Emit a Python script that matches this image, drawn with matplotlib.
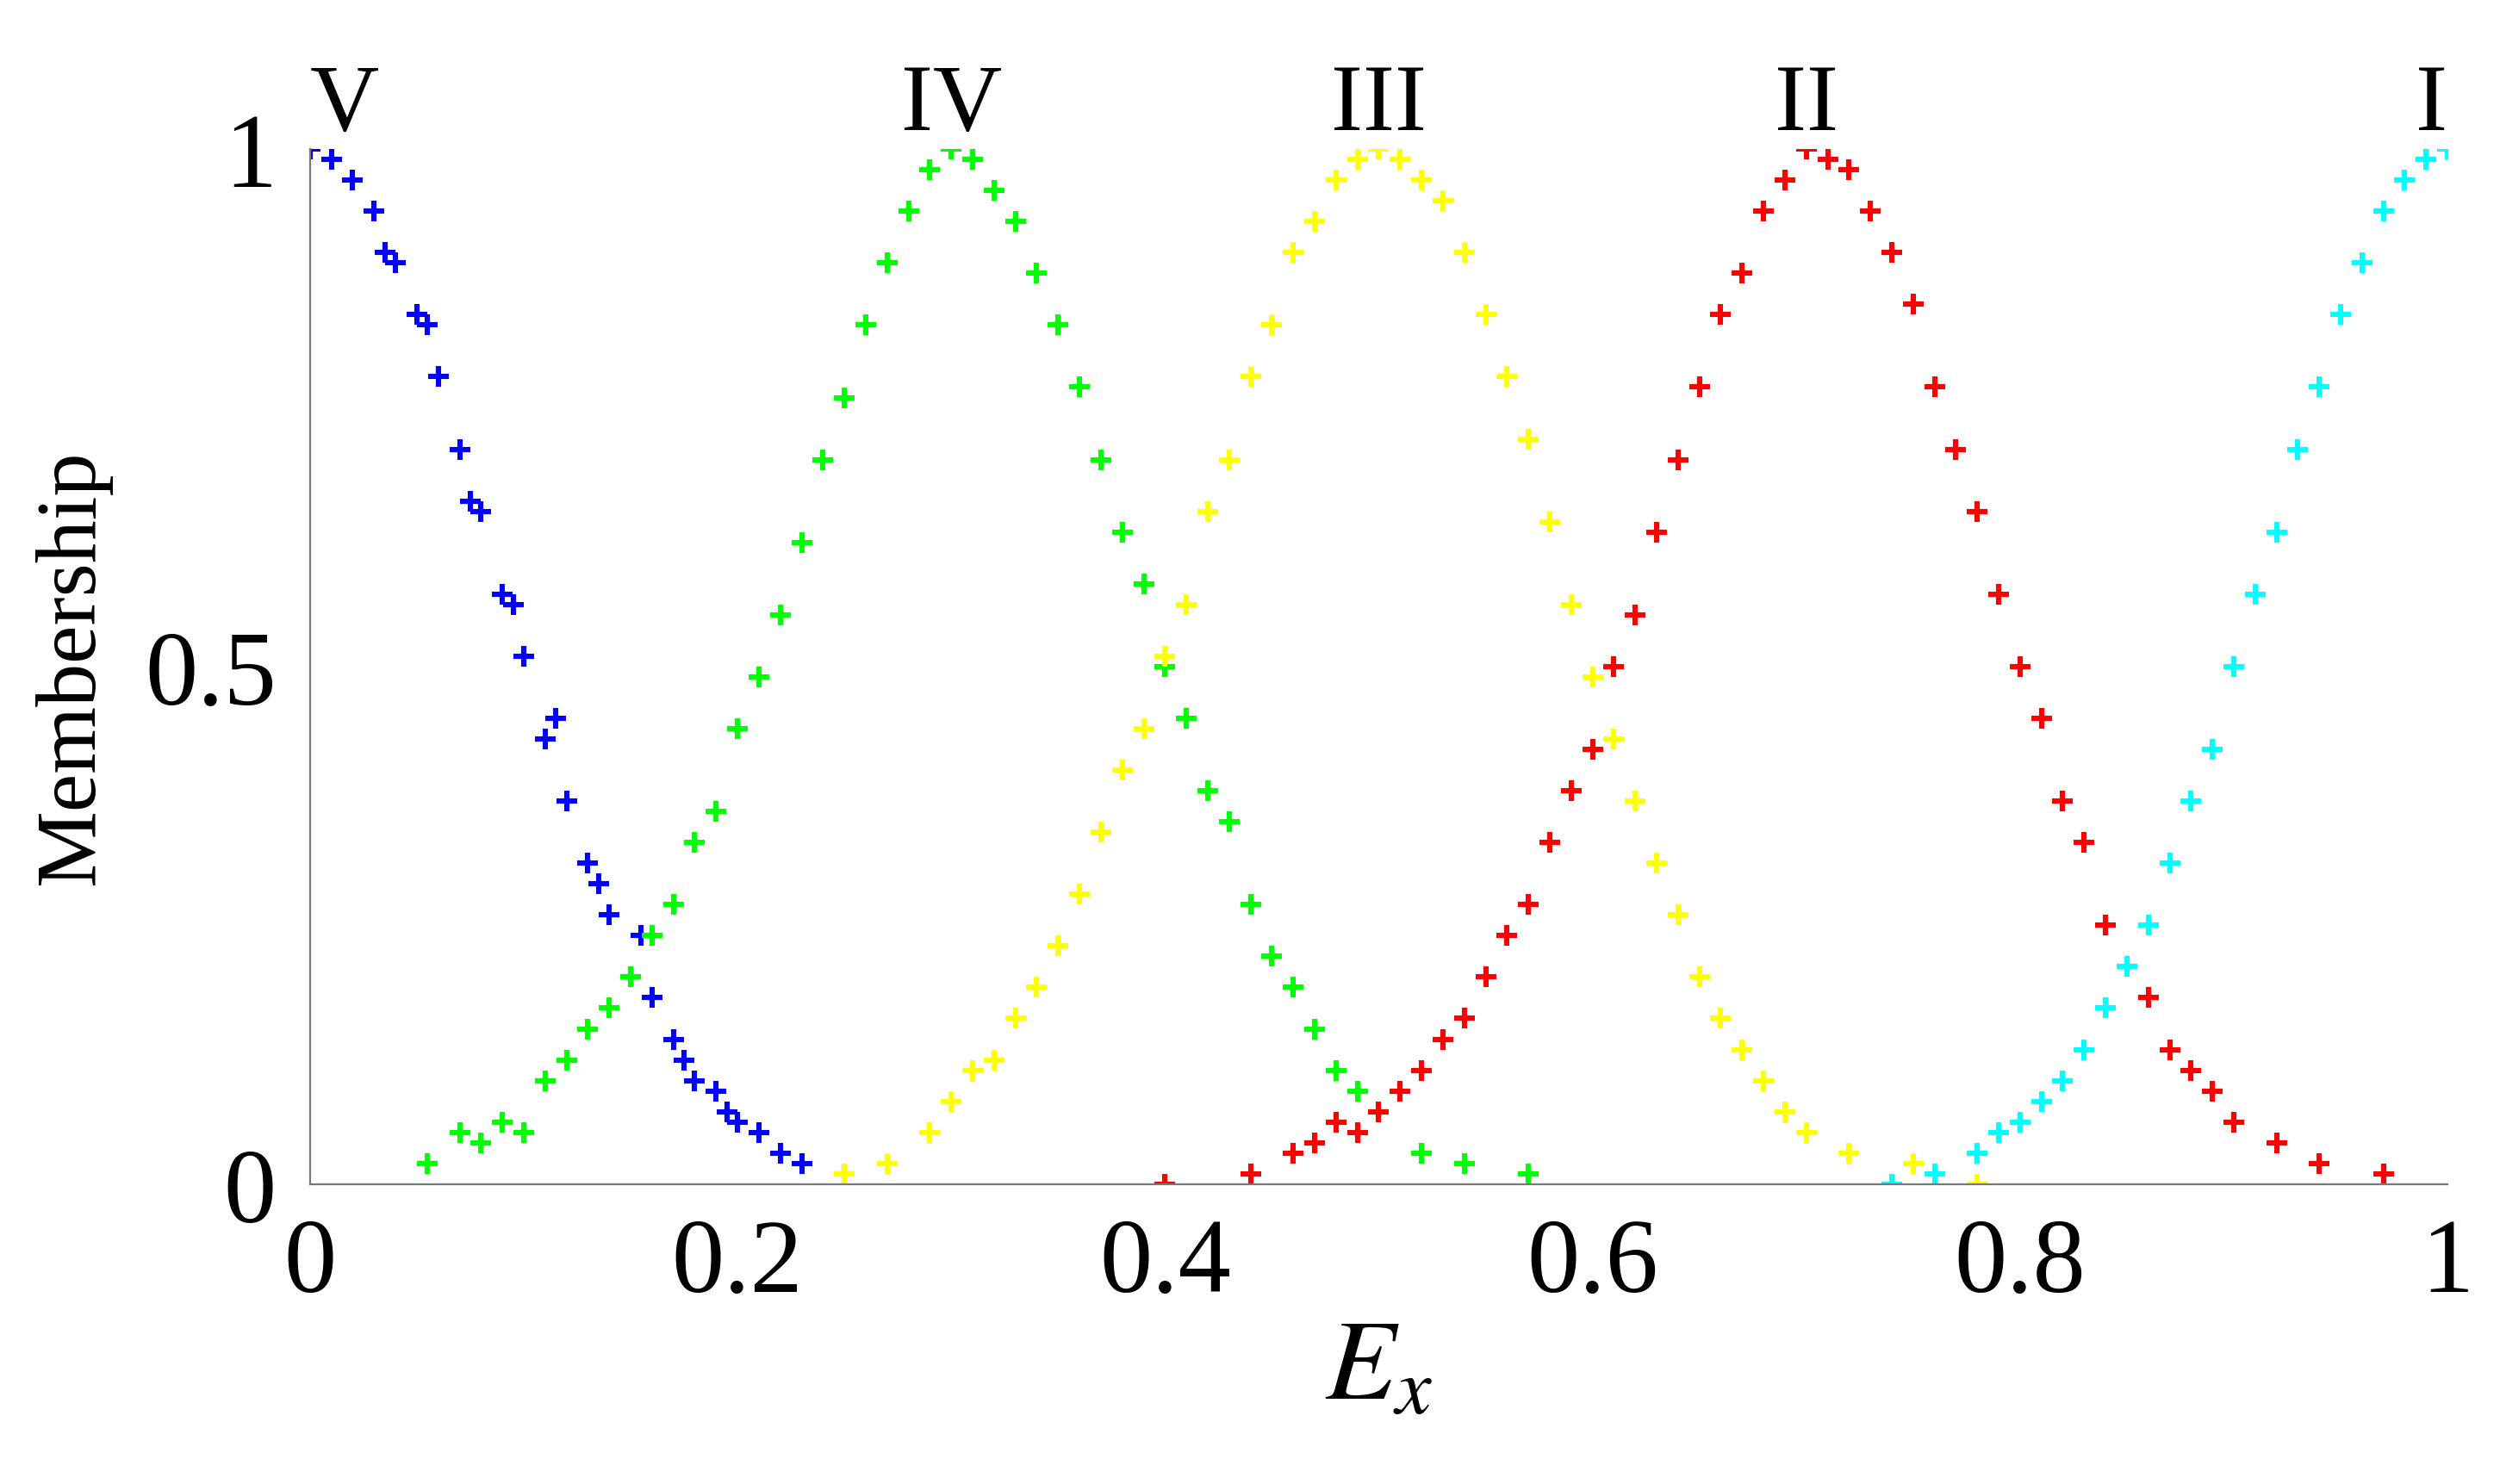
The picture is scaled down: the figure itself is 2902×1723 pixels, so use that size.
import numpy as np
import matplotlib.pyplot as plt

plt.rcParams['font.family'] = ['Liberation Serif', 'DejaVu Serif']
plt.rcParams['mathtext.fontset'] = 'stix'

# points, per membership class
blue_x = [0.00, 0.01, 0.02, 0.03, 0.04, 0.05, 0.06, 0.07, 0.08, 0.09, 0.10, 0.11, 0.12,
          0.13, 0.14, 0.15, 0.16, 0.17, 0.18, 0.19, 0.20, 0.21, 0.22, 0.23, 0.25,
          0.035, 0.055, 0.075, 0.095, 0.115, 0.135, 0.155, 0.175, 0.195]
blue_y = [1.00, 0.99, 0.97, 0.94, 0.89, 0.84, 0.78, 0.71, 0.65, 0.57, 0.51, 0.43, 0.37,
          0.31, 0.26, 0.20, 0.18, 0.14, 0.10, 0.09, 0.06, 0.05, 0.03, 0.02, 0.01,
          0.90, 0.83, 0.66, 0.56, 0.45, 0.29, 0.24, 0.12, 0.07]

green_x = [0.055, 0.07, 0.08, 0.09, 0.10, 0.11, 0.12, 0.13, 0.14, 0.15, 0.16, 0.17, 0.18,
           0.19, 0.20, 0.21, 0.22, 0.23, 0.24, 0.25, 0.26, 0.27, 0.28, 0.29, 0.30,
           0.31, 0.32, 0.33, 0.34, 0.35, 0.36, 0.37, 0.38, 0.39, 0.40, 0.41, 0.42, 0.43,
           0.44, 0.45, 0.46, 0.47, 0.48, 0.49, 0.50, 0.52, 0.54, 0.57]
green_y = [0.02, 0.05, 0.04, 0.06, 0.05, 0.10, 0.12, 0.15, 0.17, 0.20, 0.24, 0.27, 0.33,
           0.36, 0.44, 0.49, 0.55, 0.62, 0.70, 0.76, 0.83, 0.89, 0.94, 0.98, 1.00,
           0.99, 0.96, 0.93, 0.88, 0.83, 0.77, 0.70, 0.63, 0.58, 0.50, 0.45, 0.38, 0.35,
           0.27, 0.22, 0.19, 0.15, 0.11, 0.09, 0.07, 0.03, 0.02, 0.01]

yellow_x = [0.25, 0.27, 0.29, 0.30, 0.31, 0.32, 0.33, 0.34, 0.35, 0.36, 0.37, 0.38, 0.39,
            0.40, 0.41, 0.42, 0.43, 0.44, 0.45, 0.46, 0.47, 0.48, 0.49, 0.50,
            0.51, 0.52, 0.53, 0.54, 0.55, 0.56, 0.57, 0.58, 0.59, 0.60, 0.61, 0.62, 0.63,
            0.64, 0.65, 0.66, 0.67, 0.68, 0.69, 0.70, 0.72, 0.75, 0.78]
yellow_y = [0.01, 0.02, 0.05, 0.08, 0.11, 0.12, 0.16, 0.19, 0.23, 0.28, 0.34, 0.40, 0.44,
            0.51, 0.56, 0.65, 0.70, 0.78, 0.83, 0.90, 0.93, 0.97, 0.99, 1.00,
            0.99, 0.97, 0.95, 0.90, 0.84, 0.78, 0.72, 0.64, 0.56, 0.49, 0.43, 0.37, 0.31,
            0.26, 0.20, 0.16, 0.13, 0.10, 0.07, 0.05, 0.03, 0.02, 0.00]

red_x = [0.40, 0.44, 0.46, 0.47, 0.48, 0.49, 0.50, 0.51, 0.52, 0.53, 0.54, 0.55, 0.56,
         0.57, 0.58, 0.59, 0.60, 0.61, 0.62, 0.63, 0.64, 0.65, 0.66, 0.67, 0.68, 0.69, 0.70,
         0.71, 0.72, 0.73, 0.74, 0.75, 0.76, 0.77, 0.78, 0.79, 0.80, 0.81, 0.82, 0.83,
         0.84, 0.85, 0.86, 0.87, 0.88, 0.89, 0.90, 0.92, 0.94, 0.97]
red_y = [0.00, 0.01, 0.03, 0.04, 0.06, 0.05, 0.07, 0.09, 0.11, 0.14, 0.16, 0.20, 0.24,
         0.27, 0.33, 0.38, 0.42, 0.50, 0.55, 0.63, 0.70, 0.77, 0.84, 0.88, 0.94, 0.97, 1.00,
         0.99, 0.98, 0.94, 0.90, 0.85, 0.77, 0.71, 0.65, 0.57, 0.50, 0.45, 0.37, 0.33,
         0.25, 0.21, 0.18, 0.13, 0.11, 0.09, 0.06, 0.04, 0.02, 0.01]

cyan_x = [0.74, 0.76, 0.78, 0.79, 0.80, 0.81, 0.82, 0.83, 0.84, 0.85, 0.86, 0.87, 0.88,
          0.89, 0.90, 0.91, 0.92, 0.93, 0.94, 0.95, 0.96, 0.97, 0.98, 0.99, 1.00]
cyan_y = [0.00, 0.01, 0.03, 0.05, 0.06, 0.08, 0.10, 0.13, 0.17, 0.21, 0.25, 0.31, 0.37,
          0.42, 0.50, 0.57, 0.63, 0.71, 0.77, 0.84, 0.89, 0.94, 0.97, 0.99, 1.00]

labels = ['V', 'IV', 'III', 'II', 'I']
label_x = [0.0, 0.3, 0.5, 0.7, 1.0]
series = [(blue_x, blue_y, '#0000ff'), (green_x, green_y, '#00ff00'),
          (yellow_x, yellow_y, '#ffff00'), (red_x, red_y, '#ff0000'),
          (cyan_x, cyan_y, '#00ffff')]

fig = plt.figure(figsize=(14.51, 8.62), dpi=200)
ax = fig.add_axes([0.124, 0.202, 0.855, 0.697])

for xs, ys, c in series:
    ax.scatter(xs, ys, marker='+', s=70, linewidths=2.2, color=c)

for lab, lx in zip(labels, label_x):
    ha = 'left' if lx == 0 else ('right' if lx == 1 else 'center')
    ax.text(lx, 1.0, lab, ha=ha, va='bottom', fontsize=40)

ax.set_xlim(0, 1)
ax.set_ylim(0, 1)
ax.set_xticks([0, 0.2, 0.4, 0.6, 0.8, 1])
ax.set_xticklabels(['0', '0.2', '0.4', '0.6', '0.8', '1'])
ax.set_yticks([0, 0.5, 1])
ax.set_yticklabels(['0', '0.5', '1'])
ax.tick_params(labelsize=44, length=0, pad=14)
for s in ['top', 'right']:
    ax.spines[s].set_visible(False)
for s in ['left', 'bottom']:
    ax.spines[s].set_color('#777777')
ax.set_xlabel('$E_x$', fontsize=48, labelpad=2)
ax.set_ylabel('Membership', fontsize=36, labelpad=14)

fig.savefig('out.png', dpi=200)
